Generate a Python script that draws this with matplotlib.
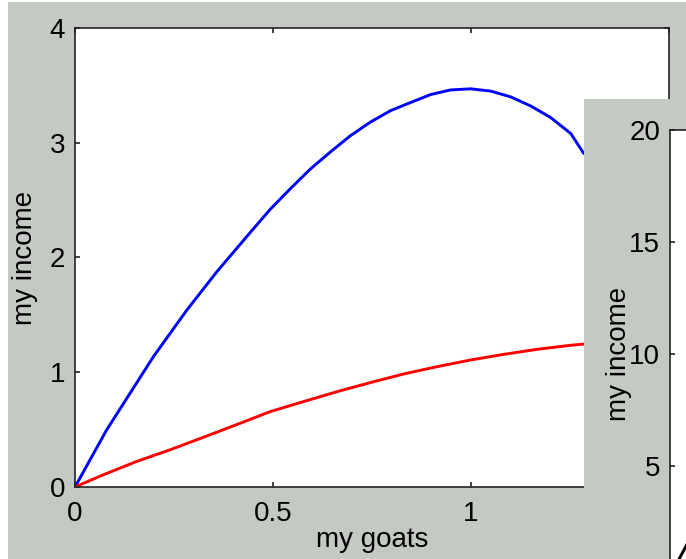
import matplotlib
matplotlib.use("Agg")
import matplotlib.pyplot as plt
from matplotlib.patches import Rectangle

# values
goats = [0, 0.038, 0.08, 0.139, 0.198, 0.282, 0.358, 0.443, 0.493, 0.544, 0.594,
         0.645, 0.695, 0.746, 0.797, 0.847, 0.898, 0.948, 0.999, 1.05, 1.10,
         1.151, 1.201, 1.252, 1.286]
income_blue = [0, 0.237, 0.498, 0.817, 1.136, 1.54, 1.875, 2.22, 2.42, 2.60, 2.77,
               2.92, 3.06, 3.18, 3.28, 3.35, 3.42, 3.46, 3.47, 3.45, 3.40,
               3.32, 3.22, 3.08, 2.90]

goats_red = [0, 0.072, 0.156, 0.240, 0.341, 0.443, 0.493, 0.577, 0.662, 0.746,
             0.830, 0.915, 0.999, 1.083, 1.167, 1.252, 1.286]
income_red = [0, 0.107, 0.223, 0.324, 0.455, 0.59, 0.657, 0.744, 0.831, 0.910,
              0.985, 1.049, 1.107, 1.156, 1.20, 1.235, 1.246]

# bit of the curve in the second window that peeks in at the corner
goats2 = [0, 0.023, 0.038, 0.05]
income2 = [0, 0.85, 1.34, 1.75]

xticks = [0, 0.5, 1, 1.5]
xticklabels = ["0", "0.5", "1", ""]   # 1.5 sits under the second window
yticks = [0, 1, 2, 3, 4]
yticks2 = [5, 10, 15, 20]

gray = "#c5c9c4"
plt.rcParams["font.family"] = ["Liberation Sans", "DejaVu Sans"]
plt.rcParams["font.size"] = 20

fig = plt.figure(figsize=(6.86, 5.59), dpi=100, facecolor="white")
fig.patches.append(Rectangle((8 / 686, 0), 1, 557 / 559, transform=fig.transFigure,
                             facecolor=gray, edgecolor="none", zorder=-5))

def style(ax):
    ax.tick_params(direction="in", length=3.6, width=1.2, top=True, right=True,
                   colors="#222222", labelcolor="black")
    for s in ax.spines.values():
        s.set_linewidth(1.2)
        s.set_color("#222222")

ax = fig.add_axes([75 / 686, 72 / 559, 594 / 686, 459 / 559])
ax.plot(goats, income_blue, color="#0000ff", lw=2.1, solid_capstyle="butt")
ax.plot(goats_red, income_red, color="#ff0000", lw=2.1, solid_capstyle="butt")
ax.set_xlim(0, 1.5)
ax.set_ylim(0, 4)
ax.set_xticks(xticks, xticklabels)
ax.set_yticks(yticks)
style(ax)
ax.tick_params(axis="x", pad=10)
ax.tick_params(axis="y", pad=7)
ax.set_xlabel("my goats")
ax.set_ylabel("my income")
ax.xaxis.set_label_coords(0.5, -0.088)
ax.yaxis.set_label_coords(-0.062, 0.5)

# the second window lying over the first one
fig.patches.append(Rectangle((584 / 686, 0), 1, 460 / 559, transform=fig.transFigure,
                             facecolor=gray, edgecolor="none", zorder=1))
ax2 = fig.add_axes([670 / 686, -19 / 559, 594 / 686, 448 / 559], zorder=2)
ax2.plot(goats2, income2, color="black", lw=2.1)
ax2.set_xlim(0, 1.5)
ax2.set_ylim(0, 20)
ax2.set_yticks(yticks2)
ax2.set_xticks([])
style(ax2)
ax2.tick_params(axis="y", pad=7)
ax2.set_ylabel("my income")
ax2.yaxis.set_label_coords(-0.064, 0.5)

fig.savefig("out.png", dpi=100, facecolor=fig.get_facecolor())
